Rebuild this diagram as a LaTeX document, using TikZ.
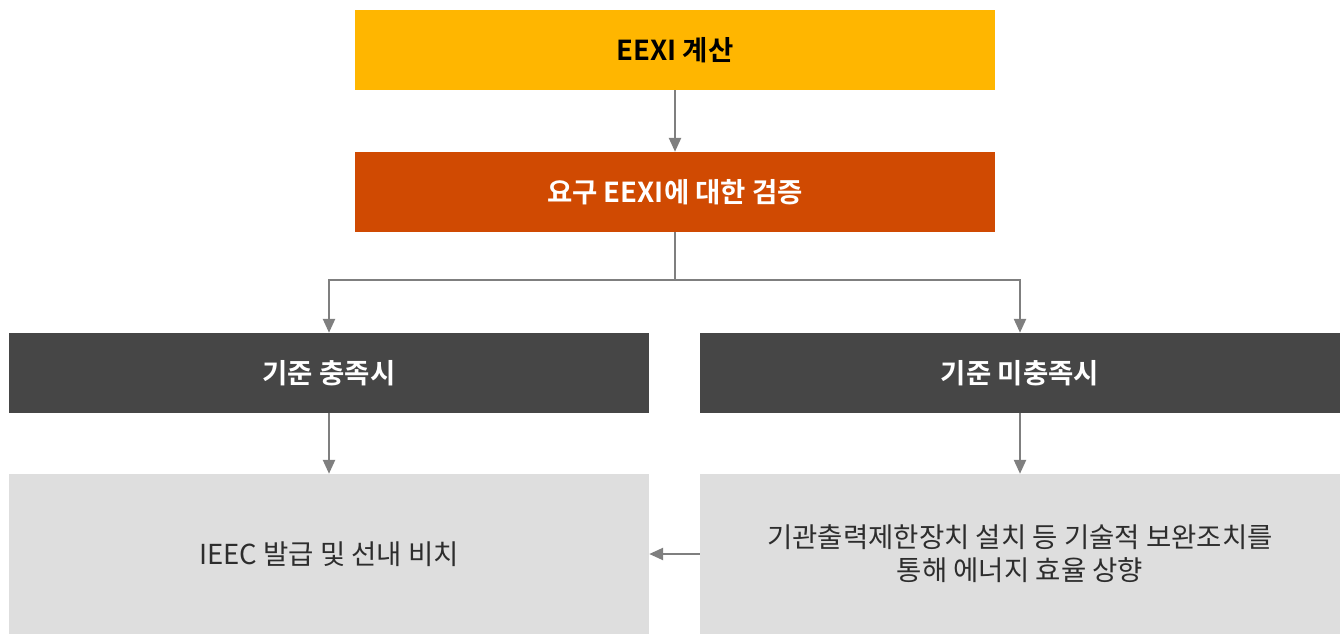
\documentclass[tikz,border=0pt]{standalone}
\usepackage{fontspec}
\setmainfont{Noto Sans CJK KR}[BoldFont={Noto Sans CJK KR Bold}]
\usetikzlibrary{arrows.meta}
\definecolor{cyellow}{HTML}{FFB600}
\definecolor{corange}{HTML}{D04A02}
\definecolor{cdark}{HTML}{464646}
\definecolor{clight}{HTML}{DEDEDE}
\definecolor{carrow}{HTML}{7F7F7F}
\definecolor{ctext}{HTML}{2D2D2D}
\tikzset{
  box/.style={draw=none, minimum width=640pt, minimum height=80pt, inner sep=0pt, font=\fontsize{27.5pt}{33pt}\selectfont, align=center},
  topbox/.style={box, font=\fontsize{27.5pt}{33pt}\selectfont\bfseries},
  lowbox/.style={box, fill=clight, minimum height=160pt, text=ctext},
  conn/.style={draw=carrow, line width=2.4pt, -{Triangle[length=14pt,width=12pt]}}
}
\begin{document}
\begin{tikzpicture}[x=1pt,y=-1pt]
\useasboundingbox (0,0) rectangle (1341,634);
\node[topbox, fill=cyellow, text=black] (calc) at (675,50) {EEXI 계산};
\node[topbox, fill=corange, text=white] (verify) at (675,192) {요구 EEXI에 대한 검증};
\node[topbox, fill=cdark, text=white] (meet) at (329,373) {기준 충족시};
\node[topbox, fill=cdark, text=white] (notmeet) at (1020,373) {기준 미충족시};
\node[lowbox] (issue) at (329,554) {IEEC 발급 및 선내 비치};
\node[lowbox] (measure) at (1020,554) {기관출력제한장치 설치 등 기술적 보완조치를\\통해 에너지 효율 상향};
\coordinate (split) at (675,280);
\draw[conn] (calc) -- (verify);
\draw[conn] (verify.south) -- (split) -| (meet.north);
\draw[conn] (verify.south) -- (split) -| (notmeet.north);
\draw[conn] (meet) -- (issue);
\draw[conn] (notmeet) -- (measure);
\draw[conn] (measure.west) -- (issue.east);
\end{tikzpicture}
\end{document}
